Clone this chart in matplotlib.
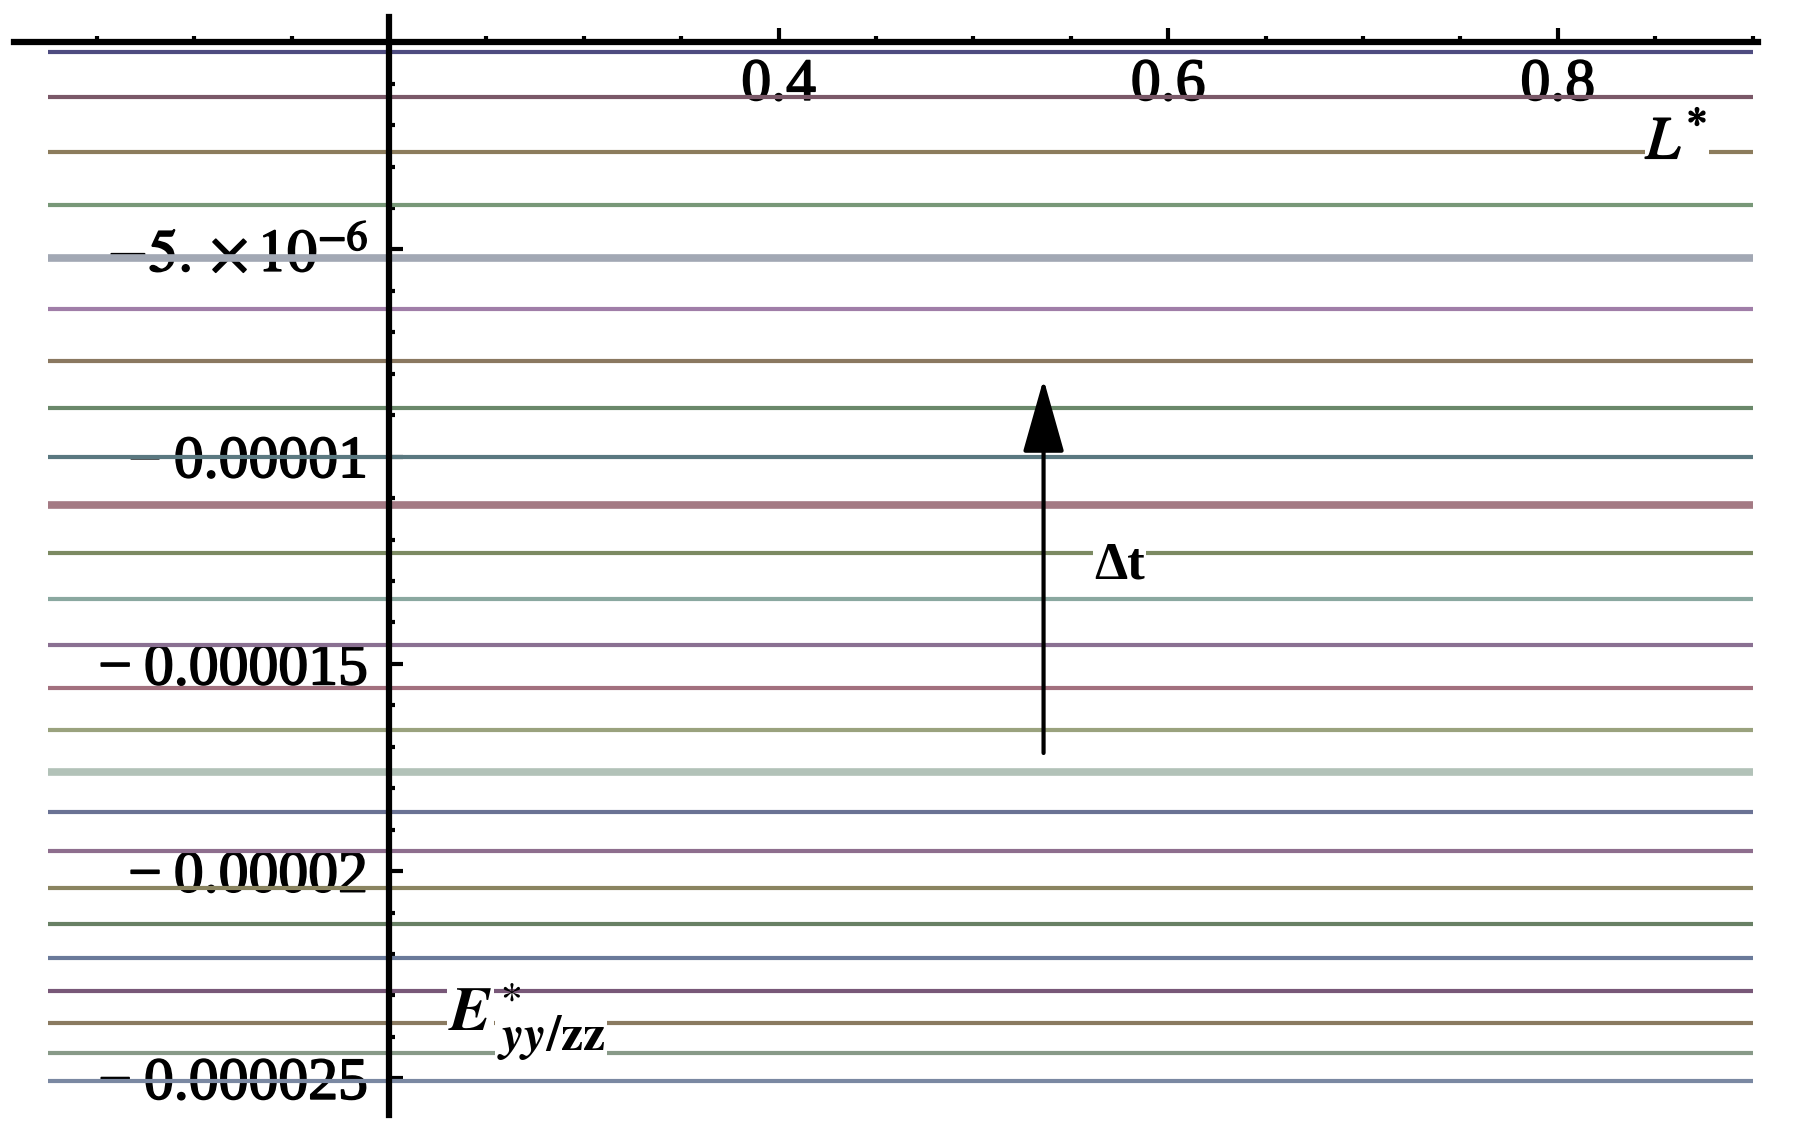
import numpy as np
import matplotlib.pyplot as plt
import matplotlib.patheffects as pe
from matplotlib.ticker import FixedLocator, MultipleLocator

plt.rcParams['font.family'] = ['Liberation Serif', 'DejaVu Serif']
plt.rcParams['mathtext.fontset'] = 'stix'

# E*_yy/zz level for each time step (constant along L*), in units of 1e-6
E_levels = [-0.24, -1.33, -2.64, -3.93, -5.20, -6.43, -7.68, -8.83, -10.02,
            -11.16, -12.32, -13.43, -14.54, -15.57, -16.59, -17.60, -18.57,
            -19.52, -20.40, -21.27, -22.10, -22.90, -23.66, -24.40, -25.06]
L_span = [0.025, 0.9]

line_colors = ['#4e4c80', '#7a5868', '#8c7c5c', '#789878', '#a2a8b4',
               '#a07ea8', '#8a7860', '#6a886a', '#5a7880', '#a47a84',
               '#7c8a62', '#8aa8a0', '#8a7092', '#a2707e', '#9aa27e',
               '#b2c2b8', '#6a7294', '#8e6e8e', '#8a8460', '#688064',
               '#6a7a9a', '#785878', '#8a7a60', '#889a88', '#7a88a2']
thick_lines = [4, 9, 15]

xtick_vals = [0.4, 0.6, 0.8]
xtick_labels = ['0.4', '0.6', '0.8']
ytick_vals = [-5e-6, -1e-5, -1.5e-5, -2e-5, -2.5e-5]
ytick_labels = [r'$-5.\times10^{-6}$', '\u2212\u20090.00001', '\u2212\u20090.000015',
                '\u2212\u20090.00002', '\u2212\u20090.000025']

arrow_L = 0.536
arrow_from = -1.715e-5
arrow_to = -8.13e-6

fig = plt.figure(figsize=(17.99, 11.31), dpi=100)
ax = fig.add_axes([0, 0, 1, 1])
ax.set_facecolor('none')

for i, (e, c) in enumerate(zip(E_levels, line_colors)):
    lw = 5.5 if i in thick_lines else 3.0
    ax.plot(L_span, [e * 1e-6, e * 1e-6], color=c, lw=lw, solid_capstyle='butt', zorder=2)

ax.set_xlim(0.0003, 0.9238)
ax.set_ylim(-2.627e-5, 1.018e-6)

for s in ['top', 'right']:
    ax.spines[s].set_visible(False)
ax.spines['bottom'].set_position(('data', 0))
ax.spines['left'].set_position(('data', 0.2))
ax.spines['bottom'].set_bounds(0.0077, 0.903)
ax.spines['left'].set_bounds(-2.589e-5, 6.0e-7)
for s in ['bottom', 'left']:
    ax.spines[s].set_linewidth(4.5)
    ax.spines[s].set_zorder(5)

ax.xaxis.set_major_locator(FixedLocator(xtick_vals))
ax.xaxis.set_minor_locator(MultipleLocator(0.05))
ax.set_xticklabels(xtick_labels)
ax.yaxis.set_major_locator(FixedLocator(ytick_vals))
ax.yaxis.set_minor_locator(FixedLocator(np.arange(-25, 0) * 1e-6))
ax.set_yticklabels(ytick_labels)

ax.tick_params(axis='both', which='major', direction='in', length=10, width=3,
               labelsize=43, color='black')
ax.tick_params(axis='both', which='minor', direction='in', length=4.5, width=3,
               color='black')
ax.tick_params(axis='x', which='major', pad=12)
ax.tick_params(axis='y', which='major', pad=15)

# the labels in the picture are heavy, thicken the regular serif a bit
heavy = [pe.withStroke(linewidth=1.2, foreground='black')]
for t in ax.get_xticklabels() + ax.get_yticklabels():
    t.set_path_effects(heavy)

ax.annotate('', xy=(arrow_L, arrow_to), xytext=(arrow_L, arrow_from),
            arrowprops=dict(arrowstyle='-|>,head_length=4.6,head_width=1.3',
                            mutation_scale=10, color='black', lw=3,
                            shrinkA=0, shrinkB=0),
            zorder=6)

box = dict(facecolor='white', edgecolor='none', pad=1)
ax.text(0.575, -1.263e-5, '\u0394t', fontsize=38, fontweight='bold',
        ha='center', va='center', bbox=box, zorder=6)
ax.text(0.861, -2.45e-6, r'$L^{*}$', fontsize=44, path_effects=heavy,
        ha='center', va='center', bbox=box, zorder=6)

# E*_{yy/zz}: E, star and subscript set as separate pieces
ax.text(0.2303, -2.384e-5, r'$\mathbfit{E}$', fontsize=45,
        ha='left', va='baseline', bbox=box, zorder=6)
ax.text(0.2625, -2.29e-5, r'$\ast$', fontsize=30,
        ha='center', va='center', zorder=7)
ax.text(0.2554, -2.432e-5, r'$\mathbfit{yy}\mathbf{/zz}$', fontsize=36,
        ha='left', va='baseline', bbox=box, zorder=6)

fig.savefig('out.png', dpi=100, facecolor='white')
